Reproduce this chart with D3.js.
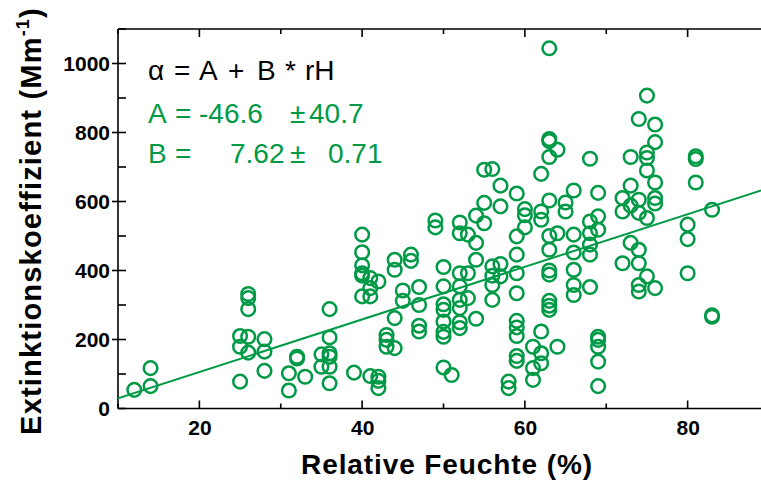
<!DOCTYPE html>
<html>
<head>
<meta charset="utf-8">
<script src="https://cdn.jsdelivr.net/npm/d3@7"></script>
<style>
  html, body { margin: 0; padding: 0; background: #fff; }
  svg { display: block; font-family: 'Liberation Sans', Arial, sans-serif; }
</style>
</head>
<body>
<svg id="chart" width="761" height="481"></svg>
<script>
/* Extinktionskoeffizient vs. relative Feuchte - scatter + linear fit */

const GREEN = '#009a47';

// rH columns (%) and the measured extinction values (Mm^-1) at each
const rhValues = [12, 14, 25, 26, 28, 31, 32, 33, 35, 36, 39, 40, 41, 42, 43, 44, 45, 46, 47,
  49, 50, 51, 52, 53, 54, 55, 56, 57, 58, 59, 60, 61, 62, 63, 64, 65, 66, 68, 69,
  72, 73, 74, 75, 76, 80, 81, 83];
const extValues = [
  [54],
  [117, 65],
  [210, 179, 78],
  [332, 320, 288, 208, 162],
  [201, 165, 109],
  [102, 52],
  [150, 145],
  [92],
  [157, 121],
  [288, 206, 160, 150, 121, 73],
  [104],
  [504, 453, 415, 392, 385, 325],
  [378, 349, 325, 94],
  [368, 92, 80, 59],
  [213, 199, 179],
  [431, 402, 262, 175],
  [342, 312],
  [446, 428],
  [352, 300, 240, 223],
  [545, 525],
  [410, 354, 302, 286, 252, 222, 208, 119],
  [97],
  [539, 508, 392, 354, 315, 291, 250, 233],
  [504, 392, 320],
  [559, 480, 431, 260],
  [692, 596, 537],
  [694, 412, 385, 358, 315],
  [646, 586, 419, 383],
  [78, 59],
  [623, 499, 446, 392, 334, 254, 235, 210, 152, 138],
  [578, 560, 525],
  [179, 117, 83],
  [680, 571, 547, 223, 160, 131],
  [1044, 781, 775, 729, 603, 500, 460, 400, 388, 312, 298, 286],
  [750, 508, 179],
  [597, 571],
  [632, 504, 452, 402, 358, 329],
  [724, 542, 508, 475, 446, 352],
  [625, 557, 518, 208, 199, 179, 136, 65],
  [610, 571, 421],
  [729, 646, 588, 480],
  [839, 605, 567, 460, 421, 358, 339],
  [907, 742, 726, 690, 552, 383],
  [823, 772, 655, 610, 594, 349],
  [533, 491, 392],
  [731, 723, 655],
  [576, 270, 266]
];

// linear fit: alpha = A + B * rH
const fitA = -46.6;
const fitB = 7.62;
const fitRange = [10, 90];

const xTicks = [20, 40, 60, 80];
const xMinorTicks = [10, 30, 50, 70, 90];
const yTicks = [0, 200, 400, 600, 800, 1000];
const yMinorTicks = [100, 300, 500, 700, 900, 1100];

/* ── Setup ─────────────────────────────────────────────────────────── */

const points = [];
rhValues.forEach((rh, i) => extValues[i].forEach(v => points.push({ rh, v })));

const svg = d3.select('#chart');
const M = { left: 118, right: 769, top: 29, bottom: 408.5 };

const x = d3.scaleLinear().domain([10, 90]).range([M.left, M.right]);
const y = d3.scaleLinear().domain([0, 1100]).range([M.bottom, M.top]);

/* ── Frame + ticks ─────────────────────────────────────────────────── */

const frame = svg.append('g').attr('stroke', '#000').attr('stroke-width', 1.6);

frame.append('line').attr('x1', M.left).attr('x2', M.right).attr('y1', M.bottom).attr('y2', M.bottom);
frame.append('line').attr('x1', M.left).attr('x2', M.right).attr('y1', M.top).attr('y2', M.top);
frame.append('line').attr('x1', M.left).attr('x2', M.left).attr('y1', M.top).attr('y2', M.bottom);

// bottom + top ticks (inward)
xTicks.concat(xMinorTicks).forEach(t => {
  const major = xTicks.includes(t);
  frame.append('line').attr('x1', x(t)).attr('x2', x(t))
    .attr('y1', M.bottom).attr('y2', M.bottom - (major ? 8 : 5));
  frame.append('line').attr('x1', x(t)).attr('x2', x(t))
    .attr('y1', M.top).attr('y2', M.top + (major ? 8 : 5));
});

// left ticks (majors cross the axis)
yTicks.concat(yMinorTicks).forEach(t => {
  const major = yTicks.includes(t) && t > 0;
  frame.append('line').attr('x1', M.left - (major ? 6 : 0)).attr('x2', M.left + 8)
    .attr('y1', y(t)).attr('y2', y(t));
});

const tickFont = g => g.selectAll('text')
  .attr('font-size', 21).attr('font-weight', 'bold').attr('fill', '#000')
  .attr('font-family', 'Liberation Sans, Arial, sans-serif');

svg.append('g').attr('transform', `translate(0,${M.bottom})`)
  .call(d3.axisBottom(x).tickValues(xTicks).tickFormat(d3.format('d')).tickSize(0).tickPadding(12))
  .call(g => g.select('.domain').remove())
  .call(tickFont);

svg.append('g').attr('transform', `translate(${M.left},0)`)
  .call(d3.axisLeft(y).tickValues(yTicks).tickFormat(d3.format('d')).tickSize(0).tickPadding(8))
  .call(g => g.select('.domain').remove())
  .call(tickFont);

/* ── Fit line + points ─────────────────────────────────────────────── */

svg.append('defs').append('clipPath').attr('id', 'plot-clip')
  .append('rect').attr('x', M.left).attr('y', M.top)
  .attr('width', M.right - M.left).attr('height', M.bottom - M.top);

const plot = svg.append('g').attr('clip-path', 'url(#plot-clip)');

plot.append('line')
  .attr('x1', x(fitRange[0])).attr('y1', y(fitA + fitB * fitRange[0]))
  .attr('x2', x(fitRange[1])).attr('y2', y(fitA + fitB * fitRange[1]))
  .attr('stroke', GREEN).attr('stroke-width', 2);

plot.append('g')
  .selectAll('circle')
  .data(points)
  .join('circle')
  .attr('cx', d => x(d.rh))
  .attr('cy', d => y(d.v))
  .attr('r', 6.8)
  .attr('fill', 'none')
  .attr('stroke', GREEN)
  .attr('stroke-width', 2.5);

/* ── Annotation ────────────────────────────────────────────────────── */

const ann = svg.append('g').attr('font-size', 28);

// [text, x] (start-anchored)
const line1 = [['α', 148], ['=', 174], ['A', 199], ['+', 228], ['B', 257], ['*', 285], ['rH', 305]];
const line2 = [['A', 148], ['=', 175], ['-46.6', 199], ['±', 290], ['40.7', 309]];
const line3 = [['B', 148], ['=', 175], ['7.62', 230], ['±', 290], ['0.71', 328]];

[[line1, 80, '#000'], [line2, 123, GREEN], [line3, 163, GREEN]].forEach(([parts, by, col]) => {
  parts.forEach(([txt, px]) => {
    ann.append('text').attr('x', px).attr('y', by).attr('fill', col).text(txt);
  });
});

/* ── Axis titles ───────────────────────────────────────────────────── */

svg.append('text')
  .attr('x', 447).attr('y', 474)
  .attr('text-anchor', 'middle')
  .attr('font-size', 28).attr('font-weight', 'bold')
  .attr('letter-spacing', 0.9)
  .text('Relative Feuchte (%)');

const yt = svg.append('text')
  .attr('transform', 'translate(41,221) rotate(-90)')
  .attr('text-anchor', 'middle')
  .attr('font-size', 29).attr('font-weight', 'bold')
  .attr('letter-spacing', 1.2);
yt.append('tspan').text('Extinktionskoeffizient (Mm');
yt.append('tspan').attr('font-size', 18).attr('dy', -12).text('-1');
yt.append('tspan').attr('dy', 12).text(')');
</script>
</body>
</html>
